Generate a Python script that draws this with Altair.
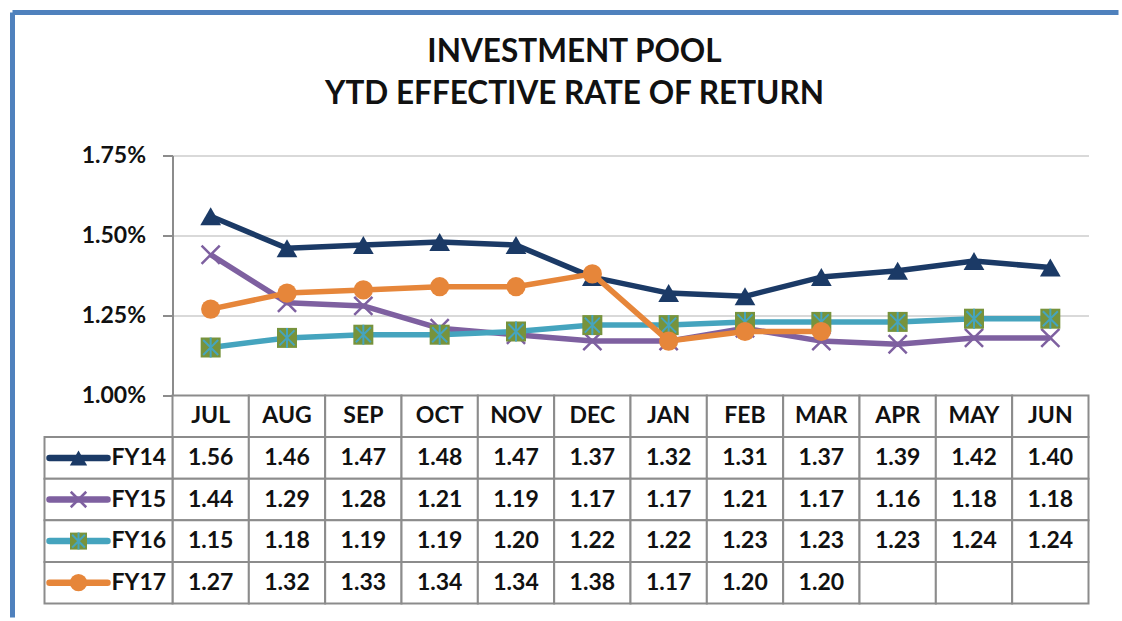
import altair as alt
import pandas as pd

# ---------------- data ----------------
months = ["JUL", "AUG", "SEP", "OCT", "NOV", "DEC", "JAN", "FEB", "MAR", "APR", "MAY", "JUN"]
series_names = ["FY14", "FY15", "FY16", "FY17"]
fy14 = [1.56, 1.46, 1.47, 1.48, 1.47, 1.37, 1.32, 1.31, 1.37, 1.39, 1.42, 1.40]
fy15 = [1.44, 1.29, 1.28, 1.21, 1.19, 1.17, 1.17, 1.21, 1.17, 1.16, 1.18, 1.18]
fy16 = [1.15, 1.18, 1.19, 1.19, 1.20, 1.22, 1.22, 1.23, 1.23, 1.23, 1.24, 1.24]
fy17 = [1.27, 1.32, 1.33, 1.34, 1.34, 1.38, 1.17, 1.20, 1.20]
y_ticks = [1.00, 1.25, 1.50, 1.75]
title_lines = ["INVESTMENT POOL", "YTD EFFECTIVE RATE OF RETURN"]

# ---------------- styles ----------------
FONT = "Lato"
TXT = "#111111"
GRID = "#D9D9D9"
BORDER = "#8C8C8C"
FRAME = "#4F81BD"
FS = 23
W, H_TOP, H_TAB = 916, 240, 208

styles = {
    "FY14": dict(color="#1B3A66", shape="triangle-up", size=430, lsize=300, filled=True),
    "FY15": dict(color="#7E60A0", shape="M-1,-1L1,1M-1,1L1,-1", size=330, lsize=240, filled=False),
    "FY16": dict(color="#45A4BE", shape="square", size=400, lsize=289, filled=True, fill="#77933C"),
    "FY17": dict(color="#E6863A", shape="circle", size=370, lsize=300, filled=True),
}
ASTER = "M-0.75,-0.75L0.75,0.75M-0.75,0.75L0.75,-0.75M0,-1L0,1"

values = {"FY14": fy14, "FY15": fy15, "FY16": fy16, "FY17": fy17}
rows = []
for s in series_names:
    for m, v in zip(months, values[s]):
        rows.append({"series": s, "month": m, "value": v, "label": f"{v:.2f}"})
df = pd.DataFrame(rows)

x_pt = alt.X("month:N", sort=months,
             scale=alt.Scale(type="point", domain=months, padding=0.5), axis=None)
y_q = alt.Y("value:Q",
            scale=alt.Scale(domain=[1.0, 1.75], zero=False, nice=False),
            axis=alt.Axis(values=y_ticks, title=None,
                          labelExpr="format(datum.value, '.2f') + '%'",
                          labelFont=FONT, labelFontSize=FS, labelFontWeight="bold",
                          labelColor=TXT, labelPadding=17,
                          tickSize=10, tickColor=BORDER, tickWidth=2,
                          domainColor=BORDER, domainWidth=2,
                          grid=True, gridColor=GRID, gridWidth=2))

top_layers = []
top_layers.append(
    alt.Chart(pd.DataFrame({"value": y_ticks})).mark_rule(opacity=0).encode(y=y_q)
)
for s in series_names:
    st = styles[s]
    d = df[df.series == s]
    base = alt.Chart(d).encode(x=x_pt, y=y_q)
    top_layers.append(base.mark_line(color=st["color"], strokeWidth=5.5, strokeJoin="round"))
    if s == "FY16":
        top_layers.append(base.mark_point(shape="square", filled=True, fill=st["fill"], size=st["size"], opacity=1, strokeWidth=0))
        top_layers.append(base.mark_point(shape=ASTER, filled=False, color=st["color"], size=st["size"], strokeWidth=2, opacity=1))
    elif st["filled"]:
        top_layers.append(base.mark_point(shape=st["shape"], filled=True, color=st["color"], size=st["size"], opacity=1))
    else:
        top_layers.append(base.mark_point(shape=st["shape"], filled=False, color=st["color"], size=st["size"], strokeWidth=2.5, opacity=1))

# title text
one = pd.DataFrame({"t": [title_lines[0]]})
two = pd.DataFrame({"t": [title_lines[1]]})
for dd, yy in ((one, -94), (two, -52)):
    top_layers.append(
        alt.Chart(dd).mark_text(font=FONT, fontSize=31.5, fontWeight="bold", color=TXT,
                                align="center", baseline="alphabetic")
        .encode(text="t:N", x=alt.value(402), y=alt.value(yy))
    )
# blue frame (top and left edges of the chart area)
frame = pd.DataFrame({"k": [0]})
top_layers.append(alt.Chart(frame).mark_rule(color=FRAME, strokeWidth=5)
                  .encode(x=alt.value(-160), x2=alt.value(946), y=alt.value(-143)))
top_layers.append(alt.Chart(frame).mark_rule(color=FRAME, strokeWidth=5)
                  .encode(x=alt.value(-160), y=alt.value(-143), y2=alt.value(462)))

top = alt.layer(*top_layers).properties(width=W, height=H_TOP)

# ---------------- table ----------------
row_dom = ["HDR"] + series_names
band_x = alt.Scale(type="band", domain=months, paddingInner=0, paddingOuter=0)
x_b = alt.X("month:N", sort=months, scale=band_x, axis=None)
x_c = alt.X("month:N", sort=months, scale=band_x, axis=None, bandPosition=0.5)
y_sc = alt.Scale(type="band", domain=row_dom, paddingInner=0, paddingOuter=0)
y_b = alt.Y("row:N", scale=y_sc, axis=None)
y_c = alt.Y("row:N", scale=y_sc, axis=None, bandPosition=0.5)

cells = pd.DataFrame([{"month": m, "row": r} for r in row_dom for m in months])
hdr = pd.DataFrame({"month": months, "row": ["HDR"] * len(months)})
vals = df.rename(columns={"series": "row"})
leg = pd.DataFrame({"row": series_names})

tab_layers = [
    alt.Chart(cells).mark_rect(fill="white", stroke=BORDER, strokeWidth=2).encode(x=x_b, y=y_b),
    alt.Chart(leg).mark_rect(fill="white", stroke=BORDER, strokeWidth=2)
    .encode(x=alt.value(-128), x2=alt.value(0), y=y_b),
    alt.Chart(hdr).mark_text(font=FONT, fontSize=FS, fontWeight="bold", color=TXT, baseline="middle")
    .encode(x=x_c, y=y_c, text="month:N"),
    alt.Chart(vals).mark_text(font=FONT, fontSize=FS, fontWeight="bold", color=TXT, baseline="middle")
    .encode(x=x_c, y=y_c, text="label:N"),
    alt.Chart(leg).mark_text(font=FONT, fontSize=FS, fontWeight="bold", color=TXT, align="left", baseline="middle")
    .encode(x=alt.value(-61), y=y_c, text="row:N"),
]
for s in series_names:
    st = styles[s]
    ld = pd.DataFrame({"row": [s]})
    b = alt.Chart(ld)
    tab_layers.append(b.mark_rule(color=st["color"], strokeWidth=6.5, strokeCap="round")
                      .encode(x=alt.value(-123), x2=alt.value(-65), y=y_c))
    if s == "FY16":
        tab_layers.append(b.mark_point(shape="square", filled=True, fill=st["fill"], size=st["lsize"], opacity=1, strokeWidth=0)
                          .encode(x=alt.value(-94), y=y_c))
        tab_layers.append(b.mark_point(shape=ASTER, filled=False, color=st["color"], size=st["lsize"], strokeWidth=2, opacity=1)
                          .encode(x=alt.value(-94), y=y_c))
    elif st["filled"]:
        tab_layers.append(b.mark_point(shape=st["shape"], filled=True, color=st["color"], size=st["lsize"], opacity=1)
                          .encode(x=alt.value(-94), y=y_c))
    else:
        tab_layers.append(b.mark_point(shape=st["shape"], filled=False, color=st["color"], size=st["lsize"], strokeWidth=2.5, opacity=1)
                          .encode(x=alt.value(-94), y=y_c))

table = alt.layer(*tab_layers).properties(width=W, height=H_TAB)

chart = (
    alt.vconcat(top, table, spacing=0, bounds="flush")
    .properties(padding={"left": 9.5, "top": 9.5, "right": 0, "bottom": 0}, background="white")
    .configure_view(stroke=None)
    .configure_concat(spacing=0)
)

chart.save("out.html", embed_options={"renderer": "svg", "actions": False})
